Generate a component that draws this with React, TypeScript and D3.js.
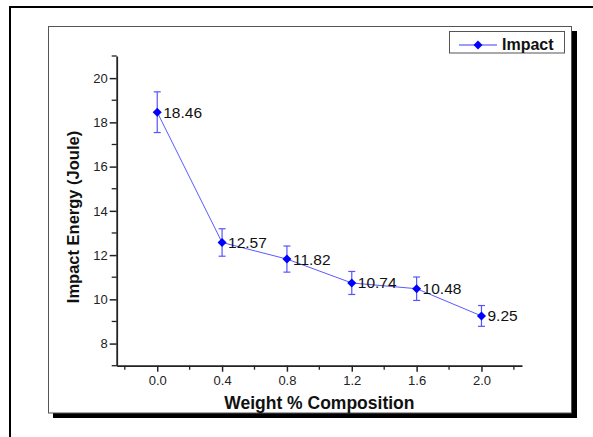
import React, { useEffect, useRef } from 'react';
import * as d3 from 'd3';

// Weight % composition vs impact energy
const compositions = [0.0, 0.4, 0.8, 1.2, 1.6, 2.0];
const impactEnergy = [18.46, 12.57, 11.82, 10.74, 10.48, 9.25];
const impactError = [0.92, 0.62, 0.59, 0.52, 0.53, 0.47];
const pointLabels = ['18.46', '12.57', '11.82', '10.74', '10.48', '9.25'];

const xTicks = [0.0, 0.4, 0.8, 1.2, 1.6, 2.0];
const xMinorTicks = [-0.2, 0.2, 0.6, 1.0, 1.4, 1.8, 2.2];
const yTicks = [8, 10, 12, 14, 16, 18, 20];
const yMinorTicks = [7, 9, 11, 13, 15, 17, 19, 21];

const xLabel = 'Weight % Composition';
const yLabel = 'Impact Energy (Joule)';
const seriesName = 'Impact';

const W = 593;
const H = 437;
const FONT = 'Arial, "Liberation Sans", sans-serif';

const App: React.FC = () => {
  const svgRef = useRef<SVGSVGElement>(null);

  useEffect(() => {
    if (!svgRef.current) return;
    const svg = d3.select(svgRef.current);
    svg.selectAll('*').remove();

    // outer page frame (clipped by window)
    svg.append('rect')
      .attr('x', 10).attr('y', 7)
      .attr('width', 700).attr('height', 600)
      .attr('fill', 'none').attr('stroke', '#000').attr('stroke-width', 2);

    // graph frame with drop shadow
    svg.append('rect')
      .attr('x', 53).attr('y', 31)
      .attr('width', 524).attr('height', 387)
      .attr('fill', '#000');
    svg.append('rect')
      .attr('x', 48.5).attr('y', 26.5)
      .attr('width', 523).attr('height', 386.5)
      .attr('fill', '#fff').attr('stroke', '#555').attr('stroke-width', 1);

    const xScale = d3.scaleLinear().domain([-0.25, 2.25]).range([116.7, 522]);
    const yScale = d3.scaleLinear().domain([7, 21]).range([365.7, 56]);
    const x0 = xScale.range()[0];
    const y0 = yScale.range()[0];

    // minor ticks
    const g = svg.append('g');
    g.selectAll('line.xminor')
      .data(xMinorTicks)
      .enter().append('line')
      .attr('x1', d => xScale(d)).attr('x2', d => xScale(d))
      .attr('y1', y0).attr('y2', y0 + 4)
      .attr('stroke', '#222').attr('stroke-width', 1.3);
    g.selectAll('line.yminor')
      .data(yMinorTicks)
      .enter().append('line')
      .attr('x1', x0 - 5).attr('x2', x0)
      .attr('y1', d => yScale(d)).attr('y2', d => yScale(d))
      .attr('stroke', '#222').attr('stroke-width', 1.3);

    // major axes
    const xAxis = d3.axisBottom(xScale)
      .tickValues(xTicks)
      .tickSize(6)
      .tickSizeOuter(0)
      .tickPadding(4)
      .tickFormat(d => (d as number).toFixed(1));
    const yAxis = d3.axisLeft(yScale)
      .tickValues(yTicks)
      .tickSize(7)
      .tickSizeOuter(0)
      .tickPadding(2)
      .tickFormat(d => String(d));

    const gx = svg.append('g')
      .attr('transform', `translate(0,${y0})`)
      .call(xAxis);
    const gy = svg.append('g')
      .attr('transform', `translate(${x0},0)`)
      .call(yAxis);

    [gx, gy].forEach(ax => {
      ax.select('.domain').attr('stroke', '#222').attr('stroke-width', 1.8);
      ax.selectAll('.tick line').attr('stroke', '#222').attr('stroke-width', 1.5);
      ax.selectAll('.tick text')
        .attr('fill', '#222')
        .style('font-family', FONT)
        .style('font-size', '13px');
    });

    // axis titles
    svg.append('text')
      .attr('x', (xScale.range()[0] + xScale.range()[1]) / 2)
      .attr('y', 409)
      .attr('text-anchor', 'middle')
      .style('font-family', FONT)
      .style('font-size', '17.5px')
      .style('font-weight', 'bold')
      .attr('fill', '#111')
      .text(xLabel);

    svg.append('text')
      .attr('transform', `translate(79,217) rotate(-90)`)
      .attr('text-anchor', 'middle')
      .style('font-family', FONT)
      .style('font-size', '16.5px')
      .style('font-weight', 'bold')
      .attr('fill', '#111')
      .text(yLabel);

    const data = compositions.map((c, i) => ({
      x: c, y: impactEnergy[i], err: impactError[i], label: pointLabels[i]
    }));

    // connecting line
    const line = d3.line<typeof data[0]>()
      .x(d => xScale(d.x))
      .y(d => yScale(d.y));
    svg.append('path')
      .datum(data)
      .attr('d', line)
      .attr('fill', 'none')
      .attr('stroke', '#5a5aff')
      .attr('stroke-width', 1);

    // error bars
    const eb = svg.append('g').attr('stroke', '#5555ff').attr('stroke-width', 1.2);
    data.forEach(d => {
      const cx = xScale(d.x);
      const top = yScale(d.y + d.err);
      const bot = yScale(d.y - d.err);
      eb.append('line').attr('x1', cx).attr('x2', cx).attr('y1', top).attr('y2', bot);
      eb.append('line').attr('x1', cx - 3.5).attr('x2', cx + 3.5).attr('y1', top).attr('y2', top);
      eb.append('line').attr('x1', cx - 3.5).attr('x2', cx + 3.5).attr('y1', bot).attr('y2', bot);
    });

    // markers
    const diamond = d3.symbol().type(d3.symbolDiamond2).size(52);
    svg.selectAll('path.marker')
      .data(data)
      .enter().append('path')
      .attr('class', 'marker')
      .attr('d', diamond)
      .attr('transform', d => `translate(${xScale(d.x)},${yScale(d.y)})`)
      .attr('fill', '#0000ff');

    // value labels
    svg.selectAll('text.val')
      .data(data)
      .enter().append('text')
      .attr('class', 'val')
      .attr('x', d => xScale(d.x) + 6)
      .attr('y', d => yScale(d.y) + 5.5)
      .style('font-family', FONT)
      .style('font-size', '15.5px')
      .attr('fill', '#111')
      .text(d => d.label);

    // legend
    const lg = svg.append('g');
    lg.append('rect')
      .attr('x', 449.5).attr('y', 31.5)
      .attr('width', 115).attr('height', 21.5)
      .attr('fill', '#fff').attr('stroke', '#555').attr('stroke-width', 1);
    lg.append('line')
      .attr('x1', 459).attr('x2', 497).attr('y1', 45).attr('y2', 45)
      .attr('stroke', '#3a3aff').attr('stroke-width', 1.2);
    lg.append('path')
      .attr('d', diamond)
      .attr('transform', 'translate(478,45)')
      .attr('fill', '#0000ff');
    lg.append('text')
      .attr('x', 502).attr('y', 49.5)
      .style('font-family', FONT)
      .style('font-size', '16px')
      .style('font-weight', 'bold')
      .attr('fill', '#111')
      .text(seriesName);
  }, []);

  return (
    <svg
      ref={svgRef}
      width={W}
      height={H}
      style={{ position: 'absolute', left: 0, top: 0, background: '#fff' }}
    />
  );
};

export default App;
